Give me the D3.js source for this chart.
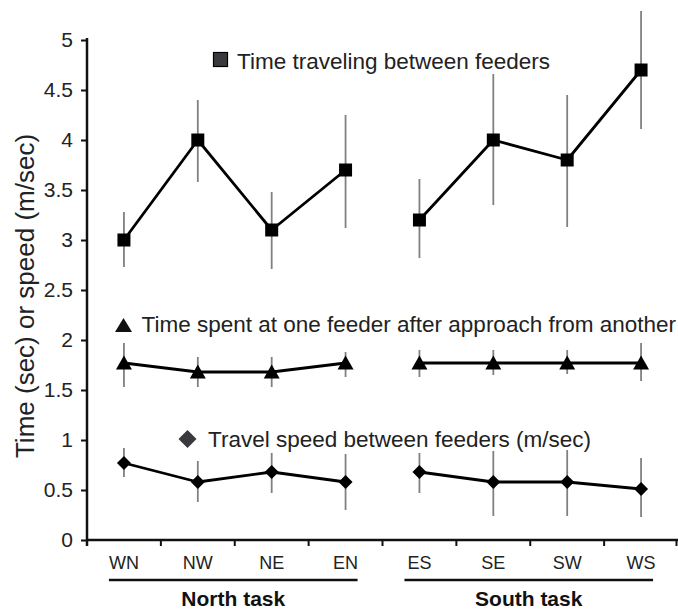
<!DOCTYPE html>
<html>
<head>
<meta charset="utf-8">
<script src="https://cdn.jsdelivr.net/npm/d3@7"></script>
<style>
  html, body { margin: 0; padding: 0; background: #fff; }
  svg { display: block; font-family: "Liberation Sans", Arial, Helvetica, sans-serif; }
</style>
</head>
<body>
<svg id="chart" width="678" height="610"></svg>
<script>
// ---- data ----
const categories = ["WN", "NW", "NE", "EN", "ES", "SE", "SW", "WS"];
const groups = [
  { name: "North task", cats: ["WN", "NW", "NE", "EN"] },
  { name: "South task", cats: ["ES", "SE", "SW", "WS"] }
];
const yTicks = [0, 0.5, 1, 1.5, 2, 2.5, 3, 3.5, 4, 4.5, 5];

const travelTime   = [3.0, 4.0, 3.1, 3.7, 3.2, 4.0, 3.8, 4.7];
const travelTimeLo = [2.73, 3.58, 2.71, 3.12, 2.82, 3.35, 3.13, 4.11];
const travelTimeHi = [3.28, 4.40, 3.48, 4.25, 3.61, 4.66, 4.45, 5.29];

const feederTime   = [1.77, 1.68, 1.68, 1.77, 1.77, 1.77, 1.77, 1.77];
const feederTimeLo = [1.53, 1.53, 1.53, 1.63, 1.63, 1.65, 1.66, 1.59];
const feederTimeHi = [1.97, 1.83, 1.83, 1.88, 1.90, 1.90, 1.90, 1.97];

const speed   = [0.77, 0.58, 0.68, 0.58, 0.68, 0.58, 0.58, 0.51];
const speedLo = [0.63, 0.38, 0.47, 0.30, 0.47, 0.24, 0.24, 0.23];
const speedHi = [0.92, 0.79, 0.87, 0.86, 0.87, 0.89, 0.90, 0.82];

const legendLabels = [
  "Time traveling between feeders",
  "Time spent at one feeder after approach from another",
  "Travel speed between feeders (m/sec)"
];
const yTitle = "Time (sec) or speed (m/sec)";

// ---- layout ----
const svg = d3.select("#chart");
const x = d3.scaleBand().domain(categories).range([87, 678]).padding(0);
const y = d3.scaleLinear().domain([0, 5]).range([540, 40]);
const cx = c => x(c) + x.bandwidth() / 2;

// axes
const yAxis = svg.append("g").attr("transform", "translate(87,0)")
  .call(d3.axisLeft(y).tickValues(yTicks).tickSize(6).tickPadding(8)
    .tickFormat(d => String(d)));
yAxis.select(".domain").remove();
yAxis.selectAll(".tick line").attr("stroke", "#111").attr("stroke-width", 2);
yAxis.selectAll(".tick text").attr("font-size", 21).attr("fill", "#222")
  .attr("font-family", "Liberation Sans, Arial, sans-serif");
svg.append("line").attr("x1", 87).attr("x2", 87).attr("y1", 38).attr("y2", 546)
  .attr("stroke", "#111").attr("stroke-width", 2.5);

// x axis line + ticks at band boundaries
svg.append("line").attr("x1", 87).attr("x2", 678).attr("y1", 540).attr("y2", 540)
  .attr("stroke", "#111").attr("stroke-width", 2.5);
const bounds = categories.map(c => x(c)).concat([x(categories[categories.length - 1]) + x.bandwidth()]);
svg.selectAll(".xtick").data(bounds.slice(1)).enter().append("line")
  .attr("x1", d => Math.min(d, 676.5)).attr("x2", d => Math.min(d, 676.5))
  .attr("y1", 540).attr("y2", 546).attr("stroke", "#111").attr("stroke-width", 2);

svg.selectAll(".xlab").data(categories).enter().append("text")
  .attr("x", d => cx(d)).attr("y", 569).attr("text-anchor", "middle")
  .attr("font-size", 18).attr("fill", "#222").text(d => d);

groups.forEach(g => {
  const x0 = cx(g.cats[0]) - 15, x1 = cx(g.cats[g.cats.length - 1]) + 12;
  svg.append("line").attr("x1", x0).attr("x2", x1).attr("y1", 580).attr("y2", 580)
    .attr("stroke", "#111").attr("stroke-width", 2.5);
  svg.append("text").attr("x", (x0 + x1) / 2).attr("y", 606).attr("text-anchor", "middle")
    .attr("font-size", 21).attr("font-weight", "bold").attr("fill", "#111").text(g.name);
});

// y title
svg.append("text").attr("transform", "translate(34,296) rotate(-90)")
  .attr("text-anchor", "middle").attr("font-size", 26).attr("fill", "#222").text(yTitle);

// ---- series ----
const triPath = "M0,-7.5L8,6.5L-8,6.5Z";
const series = [
  { v: travelTime, lo: travelTimeLo, hi: travelTimeHi, shape: "square" },
  { v: feederTime, lo: feederTimeLo, hi: feederTimeHi, shape: "triangle" },
  { v: speed, lo: speedLo, hi: speedHi, shape: "diamond" }
];
const line = d3.line().x(d => cx(d.c)).y(d => y(d.v));

series.forEach(s => {
  const pts = categories.map((c, i) => ({ c, v: s.v[i], lo: s.lo[i], hi: s.hi[i] }));
  // error bars
  svg.append("g").selectAll("line").data(pts).enter().append("line")
    .attr("x1", d => cx(d.c)).attr("x2", d => cx(d.c))
    .attr("y1", d => y(d.hi)).attr("y2", d => y(d.lo))
    .attr("stroke", "#808080").attr("stroke-width", 1.8);
  // lines per group
  groups.forEach(g => {
    const gp = pts.filter(p => g.cats.includes(p.c));
    svg.append("path").datum(gp).attr("d", line).attr("fill", "none")
      .attr("stroke", "#000").attr("stroke-width", 2.8).attr("stroke-linejoin", "round");
  });
  // markers
  const mk = svg.append("g").selectAll("path").data(pts).enter().append("path")
    .attr("transform", d => `translate(${cx(d.c)},${y(d.v)})`).attr("fill", "#000");
  if (s.shape === "square") mk.attr("d", "M-6.5,-6.5H6.5V6.5H-6.5Z");
  else if (s.shape === "triangle") mk.attr("d", triPath);
  else mk.attr("d", "M0,-7L7,0L0,7L-7,0Z");
});

// ---- legend labels ----
svg.append("rect").attr("x", 213.5).attr("y", 52.5).attr("width", 14).attr("height", 14)
  .attr("fill", "#3a3a3e").attr("stroke", "#000").attr("stroke-width", 1.2);
svg.append("text").attr("x", 237).attr("y", 69).attr("font-size", 22.5).attr("fill", "#222").text(legendLabels[0]);

svg.append("path").attr("d", "M123.5,318L132,332L115,332Z").attr("fill", "#111");
svg.append("text").attr("x", 141.5).attr("y", 332).attr("font-size", 22.5).attr("fill", "#222").text(legendLabels[1]);

svg.append("path").attr("d", "M187.5,430L196.5,439L187.5,448L178.5,439Z").attr("fill", "#3a3a3e");
svg.append("text").attr("x", 208).attr("y", 447).attr("font-size", 22.5).attr("fill", "#222").text(legendLabels[2]);
</script>
</body>
</html>
